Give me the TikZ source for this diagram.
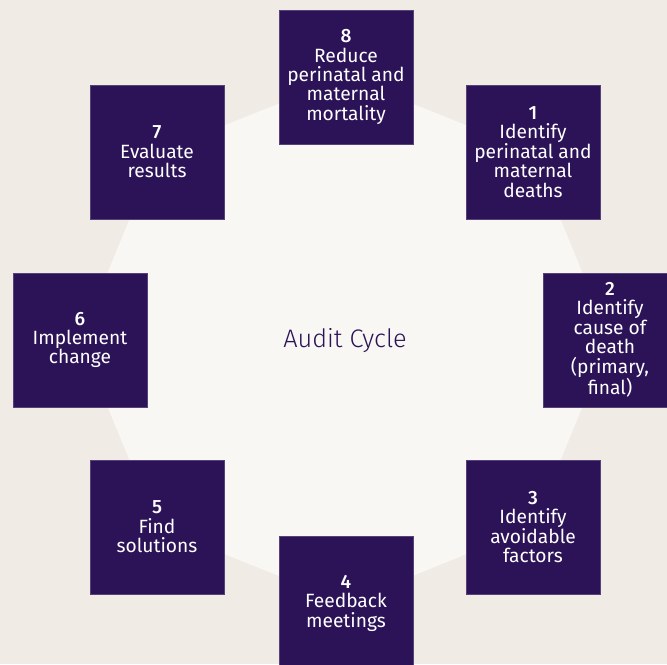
\documentclass[tikz,border=0pt]{standalone}
\usepackage{fontspec}
\setmainfont{Fira Sans}[UprightFont={* Light},BoldFont={* Medium}]
\newfontfamily\stagefont{Fira Sans}[BoldFont={* Medium}]
\usepackage{xcolor}
\definecolor{pagebg}{HTML}{F0EBE4}
\definecolor{cyclebg}{HTML}{F8F7F3}
\definecolor{auditpurple}{HTML}{2C1358}

\begin{document}
\begin{tikzpicture}[x=0.75pt,y=0.75pt,
    stagebox/.style={rectangle,fill=auditpurple,draw=auditpurple!80!white,line width=0.4pt,
        minimum size=100.5pt,inner sep=0pt,align=center,text=white,
        font=\stagefont\fontsize{14.4}{14.6}\selectfont}]
    \clip (0,0) rectangle (667,664);
    \fill[pagebg] (0,0) rectangle (667,664);

    % corners of the cycle, one per stage
    \coordinate (p8) at (346,587);
    \coordinate (p1) at (533,512);
    \coordinate (p2) at (610,324);
    \coordinate (p3) at (533,137);
    \coordinate (p4) at (346,61);
    \coordinate (p5) at (157,137);
    \coordinate (p6) at (80,324);
    \coordinate (p7) at (157,512);
    \fill[cyclebg] (p8) -- (p1) -- (p2) -- (p3) -- (p4) -- (p5) -- (p6) -- (p7) -- cycle;

    \node[stagebox] (s8) at (p8) {\textbf{8}\\Reduce\\perinatal and\\maternal\\mortality};
    \node[stagebox] (s1) at (p1) {\textbf{1}\\Identify\\perinatal and\\maternal\\deaths};
    \node[stagebox] (s2) at (p2) {\textbf{2}\\Identify\\cause of\\death\\(primary,\\final)};
    \node[stagebox] (s3) at (p3) {\textbf{3}\\Identify\\avoidable\\factors};
    \node[stagebox] (s4) at (p4) {\textbf{4}\\Feedback\\meetings};
    \node[stagebox] (s5) at (p5) {\textbf{5}\\Find\\solutions};
    \node[stagebox] (s6) at (p6) {\textbf{6}\\Implement\\change};
    \node[stagebox] (s7) at (p7) {\textbf{7}\\Evaluate\\results};

    \node[text=auditpurple,font=\fontsize{19}{21}\selectfont] (title) at (345,323) {Audit Cycle};
\end{tikzpicture}
\end{document}
